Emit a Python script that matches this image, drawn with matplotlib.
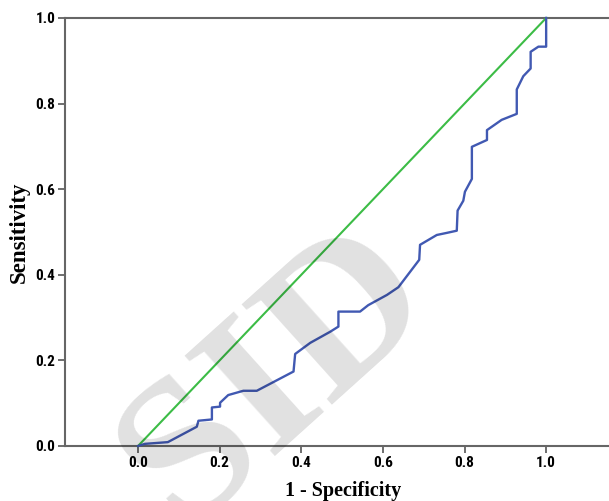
import numpy as np
import matplotlib.pyplot as plt
from matplotlib import font_manager

# ROC curve
fpr = [0.0, 0.017, 0.073, 0.144, 0.148, 0.181, 0.181, 0.201, 0.201, 0.221,
       0.258, 0.291, 0.381, 0.385, 0.422, 0.471, 0.491, 0.491, 0.544, 0.564,
       0.610, 0.638, 0.689, 0.691, 0.732, 0.757, 0.781, 0.783, 0.797, 0.801,
       0.818, 0.818, 0.855, 0.855, 0.891, 0.928, 0.928, 0.944, 0.962, 0.962,
       0.981, 1.0, 1.0]
tpr = [0.0, 0.005, 0.009, 0.045, 0.059, 0.062, 0.090, 0.092, 0.101, 0.119,
       0.129, 0.129, 0.174, 0.215, 0.241, 0.267, 0.279, 0.314, 0.314, 0.329,
       0.353, 0.371, 0.435, 0.470, 0.493, 0.498, 0.503, 0.550, 0.573, 0.594,
       0.624, 0.699, 0.715, 0.738, 0.762, 0.776, 0.833, 0.864, 0.882, 0.921,
       0.933, 0.933, 1.0]
ref = [0.0, 1.0]
ticks = [0.0, 0.2, 0.4, 0.6, 0.8, 1.0]
tick_labels = ["0.0", "0.2", "0.4", "0.6", "0.8", "1.0"]

# pick a narrow bold face if there is one
names = set(f.name for f in font_manager.fontManager.ttflist)
narrow = "DejaVu Sans"
for n in ["Liberation Sans Narrow", "DejaVu Sans Condensed", "Roboto Condensed"]:
    if n in names:
        narrow = n
        break

fig = plt.figure(figsize=(6.09, 5.01), dpi=100)
ax = fig.add_axes([0.1067, 0.1098, 0.8933, 0.8543])

ax.plot(ref, ref, color="#3cbc46", lw=1.5, clip_on=False, zorder=3)
ax.plot(fpr, tpr, color="#4159b2", lw=1.7, clip_on=False, zorder=4)

ax.set_xlim(-0.179, 1.154)
ax.set_ylim(0, 1)
ax.set_xticks(ticks)
ax.set_yticks(ticks)
tfont = dict(family=[narrow, "DejaVu Sans"], weight="bold", size=11,
             stretch="condensed")
ax.set_xticklabels(tick_labels, **tfont)
ax.set_yticklabels(tick_labels, **tfont)
ax.tick_params(length=5, width=1.2, color="#555555", pad=2)

for s in ["left", "bottom", "top"]:
    ax.spines[s].set_color("#666666")
    ax.spines[s].set_linewidth(1.5)
ax.spines["right"].set_visible(False)

lfont = dict(family=["Liberation Serif", "DejaVu Serif"], weight="bold")
ax.set_xlabel("1 - Specificity", size=14.5, **lfont)
ax.set_ylabel("Sensitivity", size=16.5, **lfont)
ax.xaxis.set_label_coords(0.511, -0.082)
ax.yaxis.set_label_coords(-0.064, 0.5)

# faded watermark
fig.text(0.455, 0.245, "SID", family=["Liberation Serif", "DejaVu Serif"],
         size=148, weight="bold", color="black", alpha=0.12, rotation=42,
         ha="center", va="center", zorder=10)

fig.savefig("out.png", dpi=100)
